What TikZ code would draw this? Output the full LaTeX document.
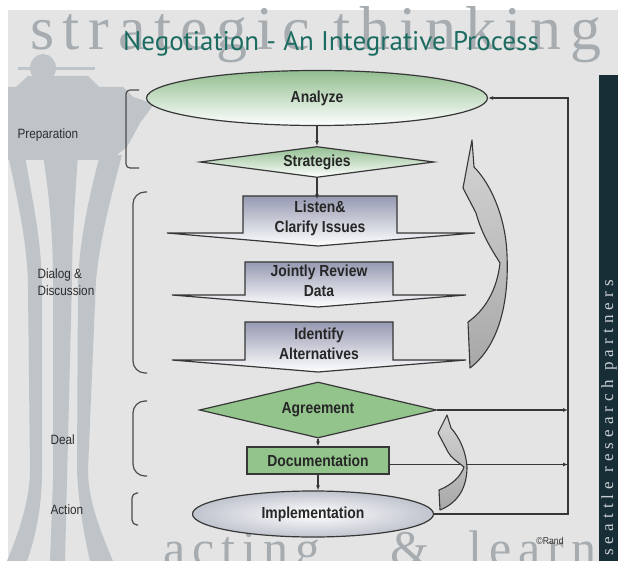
\documentclass[tikz,border=0pt]{standalone}
\usepackage{fontspec}
\setmainfont{Liberation Sans}
\newfontfamily\boxfont[FakeStretch=0.87]{Liberation Sans}
\newfontfamily\titlefont{PT Sans}
\newfontfamily\wmfont[LetterSpace=14]{Liberation Serif}
\newfontfamily\barfont[LetterSpace=30]{Liberation Serif}
\usetikzlibrary{shapes.geometric,arrows.meta,calc}

\definecolor{panel}{RGB}{228,228,228}
\definecolor{needle}{RGB}{190,196,200}
\definecolor{wm}{RGB}{166,172,176}
\definecolor{barbg}{RGB}{24,46,54}
\definecolor{bartext}{RGB}{200,206,210}
\definecolor{titleteal}{RGB}{28,108,98}
\definecolor{edge}{RGB}{55,55,55}
\definecolor{leaf}{RGB}{146,196,140}
\definecolor{paleleaf}{RGB}{146,190,144}
\definecolor{slate}{RGB}{150,154,178}
\definecolor{silver}{RGB}{192,196,206}
\definecolor{ribbonlight}{RGB}{212,212,212}
\definecolor{ribbondark}{RGB}{168,168,168}
\definecolor{labeltext}{RGB}{45,45,45}

\tikzset{
  boxtext/.style={font=\boxfont\bfseries\fontsize{16}{20}\selectfont, text=black!85, align=center},
  phase/.style={font=\boxfont\fontsize{13.5}{17}\selectfont, text=labeltext, align=left, anchor=west},
  outline/.style={draw=edge, line width=1.2pt},
  flow/.style={draw=edge, line width=1.1pt, -{Latex[length=5pt,width=4pt]}},
  brace/.style={draw=edge!90, line width=1.2pt},
  ribbonarrow/.style={draw=edge, line width=1.1pt, top color=ribbonlight, bottom color=ribbondark, line join=round},
  tabbox/.style={outline, top color=slate, bottom color=white},
  lowword/.style={font=\wmfont\fontsize{50}{50}\selectfont, text=wm, anchor=base west, inner sep=0},
}

\begin{document}
\begin{tikzpicture}[x=1pt,y=-1pt]
\useasboundingbox (0,0) rectangle (618,561);
\clip (0,0) rectangle (618,561);

% page and panel
\fill[white] (0,0) rectangle (618,561);
\fill[panel] (8,10) rectangle (618,561);

% tower silhouette
\begin{scope}[fill=needle]
  \fill (43,68) ellipse [x radius=13, y radius=14];
  \fill (18,67) rectangle (95,70);
  \fill (28,76) -- (88,76) -- (100,88) -- (15,88) -- cycle;
  \fill (8,87) -- (123,87) -- (133,97) -- (154,104) -- (140,123) -- (127,147) -- (110,160) -- (8,160) -- cycle;
  % legs
  \fill (8,155) .. controls (20,210) and (28,250) .. (28,290) -- (30,470) .. controls (30,500) and (18,535) .. (7,561)
        -- (27,561) .. controls (38,530) and (42,500) .. (42,470) -- (42,290) .. controls (42,240) and (32,200) .. (25,155) -- cycle;
  \fill (43,155) .. controls (50,200) and (53,240) .. (53,280) -- (53,480) -- (50,561)
        -- (65,561) -- (67,480) -- (72,280) .. controls (72,240) and (75,200) .. (78,155) -- cycle;
  \fill (100,155) .. controls (88,200) and (80,240) .. (78,280) -- (77,470) .. controls (78,500) and (84,535) .. (90,561)
        -- (113,561) .. controls (100,530) and (88,500) .. (88,470) -- (96,280) .. controls (100,240) and (110,200) .. (122,155) -- cycle;
\end{scope}

% background lettering
\node[font=\wmfont\fontsize{62}{62}\selectfont, text=wm, anchor=base west, inner sep=0] (wmtop) at (30,50) {strategic thinking};
\node[lowword] (wmacting) at (163,565) {acting};
\node[lowword] (wmamp) at (390,565) {\&};
\node[lowword] (wmlearning) at (468,565) {learning};

% side bar
\fill[barbg] (599,75) rectangle (618,561);
\node[font=\barfont\fontsize{17}{17}\selectfont, text=bartext, rotate=90, anchor=base west, inner sep=0] (brand) at (613,556) {seattle research partners};

% title
\node[font=\titlefont\fontsize{27}{29}\selectfont, text=titleteal] (title) at (331,44) {Negotiation - An Integrative Process};

% phase labels and brackets
\node[phase] (prep) at (14,135) {Preparation};
\node[phase] (dialog) at (34,282) {Dialog \&\\Discussion};
\node[phase] (deal) at (47,440) {Deal};
\node[phase] (action) at (47,510) {Action};

\draw[brace, rounded corners=4] (139,90) -- (126,90) -- (126,168) -- (139,168);
\draw[brace, rounded corners=12] (147,192) -- (133,192) -- (133,373) -- (147,373);
\draw[brace, rounded corners=12] (147,401) -- (133,401) -- (133,476) -- (147,476);
\draw[brace, rounded corners=5] (138,493) -- (132,493) -- (132,525) -- (138,525);

% process steps
\node[ellipse, outline, minimum width=341pt, minimum height=55pt, inner sep=0,
      top color=paleleaf, bottom color=white, boxtext] (analyze) at (317,98) {Analyze};
\node[diamond, outline, shape aspect=7.5, minimum width=234pt, minimum height=31pt, inner sep=0,
      top color=paleleaf, bottom color=white, boxtext] (strat) at (317,162) {Strategies};

\path[tabbox] (243,196) -- (397,196) -- (397,233) -- (475,233) -- (318,246) -- (167,233) -- (243,233) -- cycle;
\node[boxtext, minimum width=154pt, minimum height=37pt, inner sep=0] (listen) at (320,218) {Listen\&\\Clarify Issues};

\path[tabbox] (245,262) -- (393,262) -- (393,295) -- (466,295) -- (318,307) -- (172,295) -- (245,295) -- cycle;
\node[boxtext, minimum width=148pt, minimum height=33pt, inner sep=0] (review) at (319,281) {Jointly Review\\Data};

\path[tabbox] (245,322) -- (393,322) -- (393,360) -- (466,360) -- (318,372) -- (172,360) -- (245,360) -- cycle;
\node[boxtext, minimum width=148pt, minimum height=38pt, inner sep=0] (identify) at (319,343.5) {Identify\\Alternatives};

\node[diamond, outline, shape aspect=4.2, minimum width=237pt, minimum height=56pt, inner sep=0,
      fill=leaf, boxtext] (agree) at (318,410) {Agreement};
\node[rectangle, outline, fill=leaf, minimum width=142pt, minimum height=27pt, inner sep=0, boxtext] (doc) at (318,460.5) {Documentation};
\node[ellipse, outline, minimum width=241pt, minimum height=46pt, inner sep=0,
      inner color=white, outer color=silver, boxtext] (impl) at (313,514) {Implementation};

% forward flow
\draw[flow] (analyze.south) -- (analyze.south |- strat.north);
\draw[flow] (strat.south) -- (strat.south |- listen.north);
\draw[flow] (agree.south) -- (agree.south |- doc.north);
\draw[flow] (doc.south) -- (doc.south |- impl.north);

% feedback rail
\coordinate (rail) at (568,0);
\draw[flow] (impl.east) -- (impl.east -| rail) -- (rail |- analyze.east) -- (analyze.east);
\draw[flow] (agree.east) -- (agree.east -| rail);
\draw[flow] ($(doc.east)+(0,4)$) -- ($(doc.east -| rail)+(0,4)$);

% curved return arrows
\path[ribbonarrow] (472,140) -- (474,167) .. controls (492,185) and (506,220) .. (507,255)
   .. controls (509,300) and (500,345) .. (470,368) -- (468,322)
   .. controls (485,310) and (497,290) .. (500,263) .. controls (492,250) and (482,235) .. (476,213)
   -- (463,188) -- cycle;
\path[ribbonarrow] (447,415) -- (451,428) .. controls (460,438) and (466,452) .. (467,467)
   .. controls (467,485) and (460,502) .. (440,510) -- (439,490)
   .. controls (452,485) and (461,476) .. (464,467) .. controls (458,462) and (451,458) .. (448,452)
   -- (438,433) -- cycle;

% credit
\node[font=\boxfont\fontsize{10}{11}\selectfont, text=black!80] (rand) at (550,541) {©Rand};
\end{tikzpicture}
\end{document}
